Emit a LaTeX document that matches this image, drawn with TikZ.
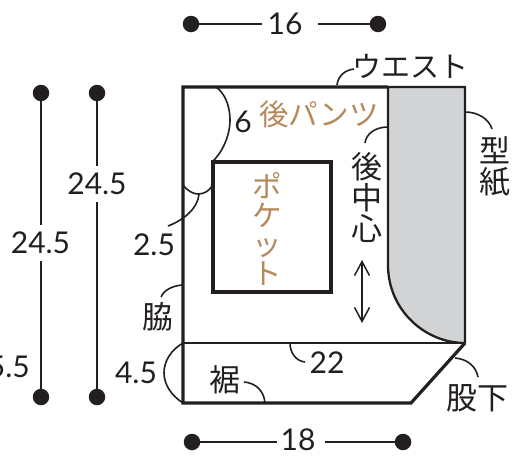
\documentclass[tikz,border=0pt]{standalone}
\usepackage{fontspec}
\setmainfont{Lato}
\newfontfamily\cjk{Noto Sans CJK JP}
\usetikzlibrary{arrows.meta}
\definecolor{ink}{HTML}{231F20}
\definecolor{pat}{HTML}{D1D3D4}
\definecolor{brown}{HTML}{B5895A}
\tikzset{
 heavy/.style={draw=ink,line width=3.2pt},
 medium/.style={draw=ink,line width=2.3pt},
 leader/.style={draw=ink,line width=1.6pt},
 dimline/.style={draw=ink,line width=2pt},
 dotend/.style={circle,fill=ink,inner sep=0pt,minimum size=16.5pt},
 num/.style={text=ink,font=\fontsize{30}{30}\selectfont,inner sep=0pt},
 jp/.style={text=ink,font=\cjk\fontsize{31}{31}\selectfont,inner sep=0pt,align=center},
 katajp/.style={text=ink,font=\cjk\fontsize{29}{29}\selectfont,inner sep=0pt,align=center},
 brownjp/.style={text=brown,font=\cjk\fontsize{29.5}{29}\selectfont,inner sep=0pt,align=center},
}
\begin{document}
\begin{tikzpicture}[x=1pt,y=-1pt]
\useasboundingbox (0,0) rectangle (516,458);
% pattern
\fill[pat] (388,87) -- (465,87) -- (465,343) .. controls (425,343) and (388,310) .. (388,265) -- cycle;
\draw[medium] (465,343) .. controls (425,343) and (388,310) .. (388,265) -- (388,87) -- (465,87) -- (465,343);
\draw[medium] (183,343) -- (465,343);
\draw[heavy,line join=miter] (388,87) -- (183,87) -- (183,403) -- (411,403) -- (465,343);
\draw[heavy] (213,162) rectangle (331,292);
% brackets
\draw[leader] (216,87) .. controls (226,94) and (230,108) .. (230,120) .. controls (230,136) and (222,153) .. (212,162);
\draw[leader] (183,185) .. controls (188,191) and (193,194) .. (198,194) .. controls (204,194) and (209,191) .. (212,186);
\draw[leader] (199,194) .. controls (198,208) and (184,220) .. (168,226);
\draw[leader] (183,343) .. controls (171,350) and (164,361) .. (164,373) .. controls (164,385) and (172,396) .. (183,403);
\draw[leader] (337,85) .. controls (338,76) and (345,70) .. (354,69);
\draw[leader] (388,127) .. controls (375,127) and (366,134) .. (365,143);
\draw[leader] (465,112) .. controls (478,112) and (489,119) .. (492,129);
\draw[leader] (182,285) .. controls (172,286) and (164,290) .. (161,297);
\draw[leader] (290,343) .. controls (290,353) and (296,361) .. (305,362);
\draw[leader] (244,382) .. controls (256,383) and (264,391) .. (265,403);
\draw[leader] (455,358) .. controls (467,359) and (476,366) .. (478,377);
% grain arrow
\coordinate (g1) at (362,260);
\coordinate (g2) at (362,323);
\draw[draw=ink,line width=1.5pt,{Straight Barb[length=14pt,width=15pt,line width=1.5pt]}-{Straight Barb[length=14pt,width=15pt,line width=1.5pt]}] (g1) -- (g2);
% dimensions
\node[dotend] (ta) at (191,24) {};
\node[dotend] (tb) at (378,24) {};
\node[num] (t16) at (285,24) {16};
\coordinate (ta1) at (262,24); \coordinate (tb1) at (318,24);
\draw[dimline] (ta) -- (ta1); \draw[dimline] (tb1) -- (tb);
\node[dotend] (ba) at (192,442) {};
\node[dotend] (bb) at (403,442) {};
\node[num] (b18) at (298,440) {18};
\coordinate (ba1) at (277,442); \coordinate (bb1) at (325,442);
\draw[dimline] (ba) -- (ba1); \draw[dimline] (bb1) -- (bb);
\node[dotend] (la) at (41,93) {};
\node[dotend] (lb) at (41,397) {};
\node[num] (l245) at (40.5,243) {24.5};
\coordinate (la1) at (41,225); \coordinate (lb1) at (41,261);
\draw[dimline] (la) -- (la1); \draw[dimline] (lb1) -- (lb);
\node[dotend] (ra) at (97,93) {};
\node[dotend] (rb) at (97,397) {};
\node[num] (r245) at (97,184) {24.5};
\coordinate (ra1) at (97,166); \coordinate (rb1) at (97,202);
\draw[dimline] (ra) -- (ra1); \draw[dimline] (rb1) -- (rb);
% numbers
\node[num,anchor=east] (n55) at (30,367) {5.5};
\node[num] (n6) at (243,122) {6};
\node[num] (n25) at (154,245) {2.5};
\node[num] (n45) at (136,373) {4.5};
\node[num] (n22) at (327,363) {22};
% labels
\node[katajp] (w) at (410,66) {ウエスト};
\node[brownjp] (bp) at (319,114) {後パンツ};
\node[brownjp] (pk) at (267.5,229) {ポ\\ケ\\ッ\\ト};
\node[jp] (us) at (367,198) {後\\中\\心};
\node[jp] (kg) at (495,167) {型\\紙};
\node[jp] (wk) at (158,317) {脇};
\node[jp] (sm) at (225,380) {裾};
\node[jp] (mt) at (477,398) {股下};
\end{tikzpicture}
\end{document}
